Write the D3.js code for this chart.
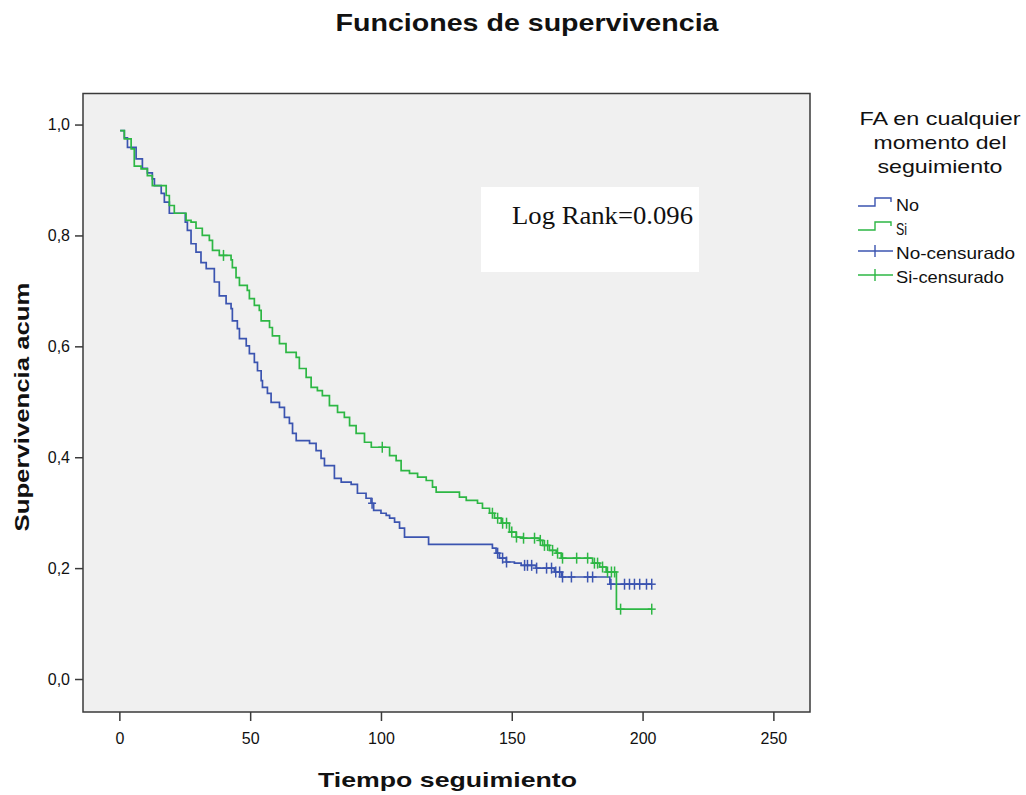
<!DOCTYPE html>
<html>
<head>
<meta charset="utf-8">
<script src="https://cdn.jsdelivr.net/npm/d3@7"></script>
<style>
  html, body { margin: 0; padding: 0; background: #ffffff; }
  svg { display: block; }
  text { font-family: "Liberation Sans", Arial, sans-serif; fill: #111; }
</style>
</head>
<body>
<svg id="chart" width="1026" height="795"></svg>
<script>
// Kaplan-Meier steps: event time (months) and cumulative survival after the drop
const noTimes = [0.3, 1.9, 3.1, 6.4, 8.8, 10.7, 12.6, 13.4, 16.0, 17.2, 19.1, 25.2, 26.0, 27.4, 29.3, 31.2, 33.2, 36.3, 38.2, 40.8,
  42.7, 43.2, 45.1, 45.9, 48.5, 49.7, 51.6, 52.8, 54.2, 54.7, 56.6, 58.0, 61.2, 63.1, 65.0, 66.2, 67.6, 72.7, 75.2, 77.1,
  78.4, 82.2, 84.8, 88.6, 91.0, 94.3, 96.2, 97.2, 100.0, 102.0, 103.3, 105.2, 107.1, 109.0, 118.2, 142.6, 144.0, 145.3, 147.9, 151.0,
  153.6, 159.3, 166.3, 169.0, 187.5];
const noSurv = [0.989, 0.976, 0.959, 0.938, 0.921, 0.913, 0.902, 0.890, 0.876, 0.860, 0.840, 0.824, 0.809, 0.785, 0.770, 0.751, 0.740, 0.716, 0.691, 0.677,
  0.668, 0.646, 0.632, 0.614, 0.601, 0.587, 0.571, 0.556, 0.538, 0.526, 0.515, 0.499, 0.490, 0.472, 0.461, 0.443, 0.430, 0.425, 0.412, 0.398,
  0.385, 0.362, 0.355, 0.351, 0.335, 0.326, 0.317, 0.304, 0.299, 0.295, 0.290, 0.283, 0.272, 0.256, 0.243, 0.236, 0.227, 0.218, 0.211, 0.209,
  0.205, 0.200, 0.193, 0.184, 0.171];
const noCensored = [96.6, 144.6, 146.5, 148.0, 154.9, 156.0, 157.6, 159.5, 163.3, 165.2, 166.8, 168.3, 169.4, 172.8, 179.0, 180.9,
  187.9, 193.1, 195.0, 196.9, 198.9, 201.5, 203.5];

const siTimes = [0.3, 1.9, 4.5, 5.7, 8.3, 10.7, 12.6, 17.9, 19.1, 21.0, 25.5, 27.4, 29.3, 31.7, 34.4, 35.6, 38.2, 42.7, 43.2, 44.6,
  45.9, 48.9, 49.7, 51.6, 53.5, 54.2, 57.4, 58.5, 61.2, 63.7, 67.6, 68.8, 71.4, 73.3, 75.7, 77.6, 80.3, 83.4, 86.0, 88.0,
  90.5, 93.7, 96.3, 103.3, 105.8, 107.7, 110.9, 114.0, 117.3, 119.7, 121.1, 130.0, 132.6, 136.9, 138.8, 141.5, 143.4, 146.0, 149.1, 151.7,
  154.1, 160.6, 161.8, 164.4, 167.0, 168.9, 180.9, 183.6, 186.1, 190.0];
const siSurv = [0.989, 0.974, 0.956, 0.925, 0.920, 0.908, 0.890, 0.872, 0.854, 0.840, 0.827, 0.824, 0.813, 0.800, 0.791, 0.773, 0.764, 0.756, 0.742, 0.724,
  0.710, 0.701, 0.686, 0.674, 0.665, 0.646, 0.634, 0.619, 0.605, 0.589, 0.580, 0.560, 0.544, 0.526, 0.520, 0.511, 0.493, 0.481, 0.472, 0.457,
  0.443, 0.427, 0.418, 0.403, 0.394, 0.376, 0.371, 0.364, 0.358, 0.346, 0.337, 0.328, 0.322, 0.317, 0.308, 0.299, 0.290, 0.281, 0.265, 0.256,
  0.254, 0.250, 0.241, 0.232, 0.227, 0.218, 0.209, 0.202, 0.193, 0.126];
const siCensored = [39.8, 100.5, 142.6, 144.6, 146.5, 148.0, 150.0, 151.8, 154.5, 158.7, 160.9, 162.5, 163.7, 165.6, 167.5, 169.4,
  174.8, 179.0, 181.6, 182.8, 184.7, 186.6, 188.1, 189.3, 191.6, 203.5];

const xTicks = [0, 50, 100, 150, 200, 250];
const yTicks = [0, 0.2, 0.4, 0.6, 0.8, 1.0];
const groupNames = ["No", "Si"];
const legendLabels = ["No", "Si", "No-censurado", "Si-censurado"];
const legendTitle = ["FA en cualquier", "momento del", "seguimiento"];
const annotation = "Log Rank=0.096";

const colors = { No: "#3b54b0", Si: "#2db744" };

const svg = d3.select("#chart");
const frame = { left: 83, right: 810, top: 93.5, bottom: 712 };

const x = d3.scaleLinear().domain([-13.9, 264]).range([frame.left, frame.right]);
const y = d3.scaleLinear().domain([-0.0595, 1.056]).range([frame.bottom, frame.top]);

// plot panel
svg.append("rect")
  .attr("x", frame.left).attr("y", frame.top)
  .attr("width", frame.right - frame.left).attr("height", frame.bottom - frame.top)
  .attr("fill", "#f0f0f0").attr("stroke", "#3a3a3a").attr("stroke-width", 1.5);

// axes
const fmtComma = d => d3.format(".1f")(d).replace(".", ",");
const yAxis = svg.append("g").attr("transform", `translate(${frame.left},0)`)
  .call(d3.axisLeft(y).tickValues(yTicks).tickFormat(fmtComma).tickSize(8).tickPadding(5));
const xAxis = svg.append("g").attr("transform", `translate(0,${frame.bottom})`)
  .call(d3.axisBottom(x).tickValues(xTicks).tickSize(9).tickPadding(12));
[yAxis, xAxis].forEach(g => {
  g.select(".domain").remove();
  g.selectAll(".tick line").attr("stroke", "#3a3a3a").attr("stroke-width", 1.5);
  g.selectAll(".tick text").attr("font-family", "Liberation Sans, Arial, sans-serif")
    .attr("font-size", 16).attr("fill", "#222");
});

// survival curves
const series = [
  { name: "No", times: noTimes, surv: noSurv, cens: noCensored },
  { name: "Si", times: siTimes, surv: siSurv, cens: siCensored }
];
const stepLine = d3.line().x(d => x(d[0])).y(d => y(d[1])).curve(d3.curveStepAfter);

function survivalAt(s, t) {
  let v = s.surv[0];
  for (let i = 0; i < s.times.length; i++) { if (s.times[i] <= t) v = s.surv[i]; }
  return v;
}

series.forEach(s => {
  const pts = s.times.map((t, i) => [t, s.surv[i]]);
  const tEnd = d3.max(s.cens);
  pts.push([tEnd, s.surv[s.surv.length - 1]]);
  svg.append("path").datum(pts)
    .attr("d", stepLine).attr("fill", "none")
    .attr("stroke", colors[s.name]).attr("stroke-width", 1.7);
});

// censored observations
series.forEach(s => {
  const g = svg.append("g").attr("stroke", colors[s.name]).attr("stroke-width", 1.5);
  s.cens.forEach(t => {
    const cx = x(t), cy = y(survivalAt(s, t));
    g.append("line").attr("x1", cx).attr("x2", cx).attr("y1", cy - 5.5).attr("y2", cy + 5.5);
    g.append("line").attr("x1", cx - 4).attr("x2", cx + 4).attr("y1", cy).attr("y2", cy);
  });
});

// annotation box
svg.append("rect").attr("x", 481).attr("y", 187).attr("width", 218).attr("height", 85).attr("fill", "#ffffff");
svg.append("text").attr("x", 512).attr("y", 224)
  .attr("font-family", "Liberation Serif, 'DejaVu Serif', serif").attr("font-size", 25)
  .attr("textLength", 181).attr("lengthAdjust", "spacingAndGlyphs")
  .style("font-family", "'Liberation Serif', 'DejaVu Serif', serif")
  .text(annotation);

// titles
svg.append("text").attr("x", 527).attr("y", 31).attr("text-anchor", "middle")
  .attr("font-size", 24).attr("font-weight", "bold")
  .attr("textLength", 383).attr("lengthAdjust", "spacingAndGlyphs")
  .text("Funciones de supervivencia");
svg.append("text").attr("x", 447.5).attr("y", 787).attr("text-anchor", "middle")
  .attr("font-size", 21).attr("font-weight", "bold")
  .attr("textLength", 259).attr("lengthAdjust", "spacingAndGlyphs")
  .text("Tiempo seguimiento");
svg.append("text").attr("transform", "translate(29,407) rotate(-90)").attr("text-anchor", "middle")
  .attr("font-size", 21).attr("font-weight", "bold")
  .attr("textLength", 249).attr("lengthAdjust", "spacingAndGlyphs")
  .text("Supervivencia acum");

// legend
const legendTitleWidths = [161, 133, 125];
legendTitle.forEach((line, i) => {
  svg.append("text").attr("x", 940).attr("y", 125 + i * 24).attr("text-anchor", "middle")
    .attr("font-size", 18.5).attr("fill", "#222")
    .attr("textLength", legendTitleWidths[i]).attr("lengthAdjust", "spacingAndGlyphs")
    .text(line);
});
const legendWidths = [23, 11, 119, 108];
legendLabels.forEach((label, i) => {
  const ly = 206 + i * 24;
  const col = colors[groupNames[i % 2]];
  const g = svg.append("g").attr("stroke", col).attr("stroke-width", 1.4).attr("fill", "none");
  if (i < 2) {
    g.append("path").attr("d", `M858,${ly} H875 V${ly - 8} H891 V${ly - 4}`);
  } else {
    g.append("line").attr("x1", 858).attr("x2", 893).attr("y1", ly - 3).attr("y2", ly - 3);
    g.append("line").attr("x1", 875).attr("x2", 875).attr("y1", ly - 9).attr("y2", ly + 3);
  }
  svg.append("text").attr("x", 896).attr("y", ly + 5)
    .attr("font-size", 16.5).attr("fill", "#222")
    .attr("textLength", legendWidths[i]).attr("lengthAdjust", "spacingAndGlyphs")
    .text(label);
});
</script>
</body>
</html>
